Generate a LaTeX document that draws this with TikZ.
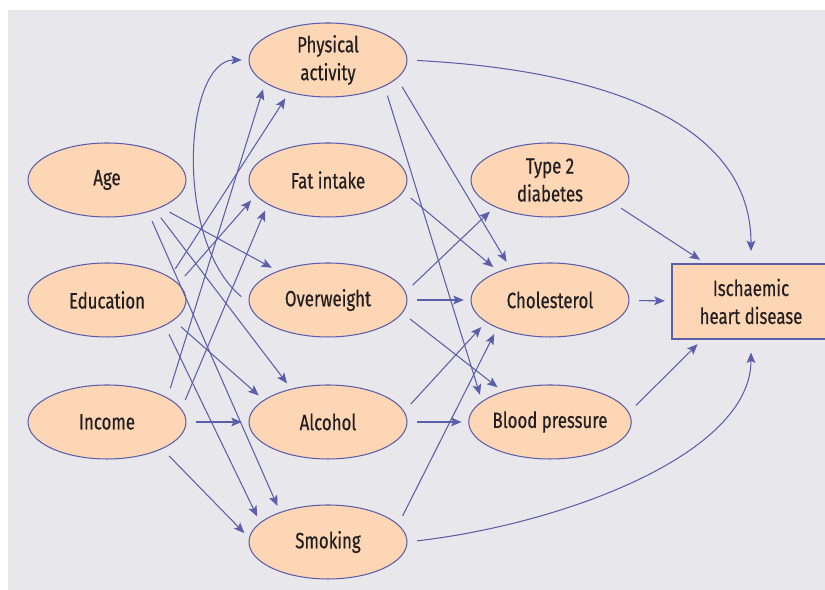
\documentclass[tikz,border=0pt]{standalone}
\usepackage{fontspec}
\setmainfont[FakeStretch=0.76,FakeBold=0.5]{Fira Sans}
\usetikzlibrary{shapes.geometric,arrows.meta}
\definecolor{bggrey}{RGB}{232,232,236}
\definecolor{peach}{RGB}{253,214,182}
\definecolor{linkblue}{RGB}{92,94,170}
\definecolor{txt}{RGB}{35,31,32}

\begin{document}
\begin{tikzpicture}[x=0.02cm,y=0.02cm,
    factor/.style={ellipse,draw=linkblue,fill=peach,line width=0.6pt,
        minimum width=3.16cm,minimum height=1.48cm,inner sep=0pt,
        align=center,text=txt,font=\fontsize{12.6}{15.9}\selectfont},
    outcome/.style={rectangle,draw=linkblue,fill=peach,line width=0.6pt,
        minimum width=3.16cm,minimum height=1.5cm,inner sep=0pt,
        align=center,text=txt,font=\fontsize{12.6}{15.9}\selectfont},
    link/.style={color=linkblue,line width=0.6pt,
        -{Stealth[length=6pt,width=5pt,inset=1.3pt]},
        shorten <=5.5pt,shorten >=3.8pt}]
        \useasboundingbox (0,0) rectangle (825,590);
        \fill[bggrey] (8,0) rectangle (825,580);

        % background factors
        \node[factor] (age) at (107,410) {Age};
        \node[factor] (edu) at (107,290) {Education};
        \node[factor] (inc) at (107,168) {Income};

        % lifestyle
        \node[factor] (phys) at (328,530) {Physical\\activity};
        \node[factor] (fat)  at (328,410) {Fat intake};
        \node[factor] (over) at (328,290) {Overweight};
        \node[factor] (alc)  at (328,168) {Alcohol};
        \node[factor] (smok) at (328,48)  {Smoking};

        % risk factors
        \node[factor] (diab) at (550,410) {Type 2\\diabetes};
        \node[factor] (chol) at (550,290) {Cholesterol};
        \node[factor] (bp)   at (550,168) {Blood pressure};

        % outcome
        \node[outcome] (ihd) at (751,288.5) {Ischaemic\\heart disease};

        % left to middle
        \draw[link] (age.-27) -- (over.150);
        \draw[link] (age.-32) -- (alc.138);
        \draw[link] (age.-38) -- (smok.148);
        \draw[link] (edu.20) -- (phys.220);
        \draw[link] (edu.13) -- (fat.192);
        \draw[link] (edu.-17) -- (alc.161);
        \draw[link] (edu.-24) -- (smok.164);
        \draw[link] (inc.22) -- (phys.200);
        \draw[link] (inc.10) -- (fat.202);
        \draw[link] (inc) -- (alc);
        \draw[link] (inc.-26) -- (smok.177);
        \draw[link] (over.182) .. controls +(-76,63) and +(-64,0) .. (phys.west);

        % middle to right
        \draw[link] (phys.-15) -- (chol.141);
        \draw[link] (phys.-25) -- (bp.163);
        \draw[link] (fat.-9) -- (chol.151);
        \draw[link] (over.6) -- (diab.206);
        \draw[link] (over) -- (chol);
        \draw[link] (over.-10) -- (bp.147);
        \draw[link] (alc.8) -- (chol.199);
        \draw[link] (alc) -- (bp);
        \draw[link] (smok.14) -- (chol.208);

        % into the outcome
        \draw[link] (diab.-20) -- (ihd.140);
        \draw[link] (chol) -- (ihd);
        \draw[link] (bp.7) -- (ihd.218);
        \draw[link,shorten >=7pt] (phys.east) .. controls +(156,-8) and +(0,157) .. (ihd.north);
        \draw[link,shorten >=7.4pt] (smok.east) .. controls +(155,18) and +(0,-115) .. (ihd.south);
    \end{tikzpicture}
\end{document}
